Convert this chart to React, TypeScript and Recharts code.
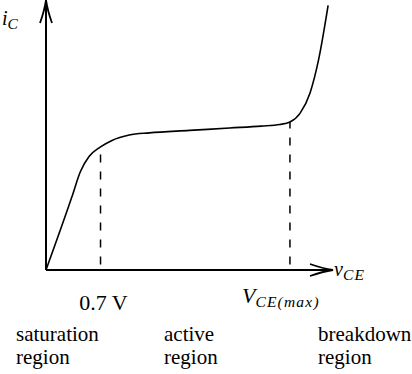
import { LineChart, Line, XAxis, YAxis, ReferenceLine } from "recharts";

// collector-emitter voltage (arbitrary units, 0-100) and collector current
const vce = [0, 9, 12, 15, 19, 23, 29, 36, 50, 64, 75, 81.5, 85, 88.5, 92, 95, 98.3];
const ic = [0, 27, 36.5, 42, 45.6, 48, 50, 50.8, 51.7, 52.6, 53.3, 53.9, 54.8, 58, 65.6, 78, 98];

// dashed markers: knee (0.7 V) and start of breakdown
const markerX = [19, 85];
const markerY = [45.6, 54.8];
const markerText = ["0.7 V", "V_CE(max)"];

const regionNames = ["saturation", "active", "breakdown"];
const regionLeft = [16, 164, 318];

const data = vce.map((v, i) => ({ vce: v, ic: ic[i] }));

const FONT = '"Liberation Serif", "Times New Roman", serif';

function Sub({ main, sub, x, y, size = 21 }: any) {
  return (
    <text x={x} y={y} fontFamily={FONT} fontSize={size} fill="#000" fontStyle="italic">
      {main}
      <tspan fontSize={15.5} dy={4} letterSpacing={1.2}>{sub}</tspan>
    </text>
  );
}

function ArrowLine(props: any) {
  const { x1, y1, x2, y2 } = props;
  const dx = x2 - x1;
  const dy = y2 - y1;
  const len = Math.sqrt(dx * dx + dy * dy) || 1;
  const ux = dx / len;
  const uy = dy / len;
  const px = -uy;
  const py = ux;
  const L = 23;
  const W = 6;
  const bx = x2 - ux * L;
  const by = y2 - uy * L;
  const cx = x2 - ux * L * 0.45;
  const cy = y2 - uy * L * 0.45;
  const d =
    `M${bx + px * W},${by + py * W} Q${cx + px * 1.5},${cy + py * 1.5} ${x2},${y2} ` +
    `Q${cx - px * 1.5},${cy - py * 1.5} ${bx - px * W},${by - py * W}`;
  return (
    <g>
      <line x1={x1} y1={y1} x2={x2} y2={y2} stroke="#000" strokeWidth={2} />
      <path d={d} fill="none" stroke="#000" strokeWidth={1.8} />
    </g>
  );
}

export default function App() {
  return (
    <div style={{ position: "absolute", left: 0, top: 0, width: 412, height: 374, background: "#fff" }}>
      <LineChart width={412} height={374} data={data} margin={{ top: 0, right: 79, bottom: 104, left: 46 }}>
        <XAxis type="number" dataKey="vce" domain={[0, 100]} hide />
        <YAxis type="number" domain={[0, 100]} hide />
        <ReferenceLine
          segment={[{ x: 0, y: 0 }, { x: 0, y: 100 }]}
          shape={ArrowLine}
          label={{
            content: ({ viewBox }: any) => <Sub main="i" sub="C" x={viewBox.x - 44} y={viewBox.y + 25} size={20} />,
          }}
        />
        <ReferenceLine
          segment={[{ x: 0, y: 0 }, { x: 100, y: 0 }]}
          shape={ArrowLine}
          label={{
            content: ({ viewBox }: any) => (
              <Sub main="v" sub="CE" x={viewBox.x + viewBox.width + 1} y={viewBox.y + 6} size={20} />
            ),
          }}
        />
        {markerX.map((mx, i) => (
          <ReferenceLine
            key={i}
            segment={[{ x: mx, y: 2 }, { x: mx, y: markerY[i] }]}
            stroke="#000"
            strokeWidth={1.5}
            strokeDasharray="8 9"
            label={{
              content: ({ viewBox }: any) => {
                const bottom = viewBox.y + viewBox.height;
                if (i === 0) {
                  return (
                    <text x={viewBox.x + 3} y={bottom + 45} fontFamily={FONT} fontSize={22} textAnchor="middle" fill="#000">
                      {markerText[i]}
                    </text>
                  );
                }
                const [m, s] = markerText[i].split("_");
                return <Sub main={m} sub={s} x={viewBox.x - 48} y={bottom + 38} size={22} />;
              },
            }}
          />
        ))}
        <Line
          type="monotone"
          dataKey="ic"
          stroke="#000"
          strokeWidth={1.6}
          dot={false}
          isAnimationActive={false}
        />
      </LineChart>
      {regionNames.map((name, i) => (
        <div
          key={name}
          style={{
            position: "absolute",
            left: regionLeft[i],
            top: 323,
            fontFamily: FONT,
            fontSize: 21,
            lineHeight: "23px",
            color: "#000",
          }}
        >
          {name}
          <br />
          region
        </div>
      ))}
    </div>
  );
}
